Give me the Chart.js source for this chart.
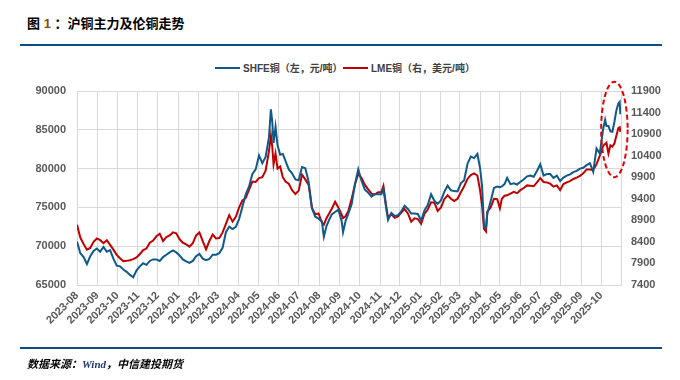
<!DOCTYPE html>
<html>
<head>
<meta charset="utf-8">
<script src="https://cdn.jsdelivr.net/npm/chart.js@4.4.1/dist/chart.umd.min.js"></script>
<style>
  html, body { margin: 0; padding: 0; background: #fff; }
  body { width: 680px; height: 380px; position: relative; overflow: hidden;
         font-family: "Liberation Sans", "Noto Sans CJK SC", sans-serif; }
  #chart { position: absolute; left: 0; top: 0; }
  .title { position: absolute; left: 27px; top: 13px; font-size: 13px; font-weight: bold;
           color: #000; font-family: "Liberation Sans", "Noto Sans CJK SC", sans-serif; }
  .title .num { color: #8a4b08; }
  .rule { position: absolute; left: 20px; width: 642px; height: 2px; background: #0f4c81; }
  .legend { position: absolute; top: 60px; font-size: 10px; font-weight: bold; color: #404040;
            white-space: nowrap; font-family: "Liberation Sans", "Noto Sans CJK SC", sans-serif; }
  .legend i { display: inline-block; width: 25px; height: 2px; vertical-align: middle;
              margin-right: 3px; position: relative; top: -1px; }
  .source { position: absolute; left: 27px; top: 355px; font-size: 11px; font-weight: bold;
            font-style: italic; color: #000; font-family: "Noto Sans CJK SC", sans-serif; }
  .source .w { font-family: "Liberation Serif", serif; color: #1f3a6e; font-weight: bold; }
</style>
</head>
<body>
<div class="title">图 <span class="num">1</span> ：沪铜主力及伦铜走势</div>
<div class="rule" style="top:44px"></div>
<div class="legend" style="left:215px"><i style="background:#0f5a8a"></i>SHFE铜（左，元/吨）</div>
<div class="legend" style="left:343px"><i style="background:#c00000"></i>LME铜（右，美元/吨）</div>
<canvas id="chart" width="680" height="380"></canvas>
<div class="rule" style="top:347px"></div>
<div class="source">数据来源：<span class="w">Wind</span>，中信建投期货</div>

<script>
// month tick labels (x axis)
const monthLabels = ['2023-08','2023-09','2023-10','2023-11','2023-12','2024-01','2024-02','2024-03',
  '2024-04','2024-05','2024-06','2024-07','2024-08','2024-09','2024-10','2024-11','2024-12',
  '2025-01','2025-02','2025-03','2025-04','2025-05','2025-06','2025-07','2025-08','2025-09','2025-10'];
const axisStart = '2023-08-01';
const axisEnd = '2025-10-31';

// sample dates
const dates = [
  '2023-08-01','2023-08-06','2023-08-11','2023-08-16','2023-08-21','2023-08-26','2023-08-31',
  '2023-09-05','2023-09-10','2023-09-15','2023-09-20','2023-09-25','2023-09-30',
  '2023-10-05','2023-10-10','2023-10-15','2023-10-20','2023-10-25','2023-10-30',
  '2023-11-04','2023-11-09','2023-11-14','2023-11-19','2023-11-24','2023-11-29',
  '2023-12-04','2023-12-09','2023-12-14','2023-12-19','2023-12-24','2023-12-29',
  '2024-01-03','2024-01-08','2024-01-13','2024-01-18','2024-01-23','2024-01-28',
  '2024-02-02','2024-02-07','2024-02-12','2024-02-17','2024-02-22','2024-02-27',
  '2024-03-03','2024-03-08','2024-03-13','2024-03-18','2024-03-23','2024-03-28',
  '2024-04-02','2024-04-07','2024-04-12','2024-04-17','2024-04-22','2024-04-27',
  '2024-05-02','2024-05-07','2024-05-12','2024-05-17','2024-05-20','2024-05-22','2024-05-24','2024-05-27','2024-05-30',
  '2024-06-03','2024-06-07','2024-06-11','2024-06-16','2024-06-21','2024-06-26',
  '2024-07-01','2024-07-06','2024-07-11','2024-07-16','2024-07-21','2024-07-26','2024-07-31',
  '2024-08-05','2024-08-08','2024-08-12','2024-08-16','2024-08-20','2024-08-25','2024-08-30',
  '2024-09-04','2024-09-06','2024-09-10','2024-09-14','2024-09-19','2024-09-24','2024-09-29',
  '2024-10-04','2024-10-09','2024-10-14','2024-10-19','2024-10-24','2024-10-29',
  '2024-11-03','2024-11-06','2024-11-10','2024-11-13','2024-11-18','2024-11-23','2024-11-28',
  '2024-12-03','2024-12-08','2024-12-13','2024-12-18','2024-12-23','2024-12-28',
  '2025-01-02','2025-01-07','2025-01-12','2025-01-17','2025-01-22','2025-01-27',
  '2025-02-01','2025-02-06','2025-02-11','2025-02-16','2025-02-21','2025-02-26',
  '2025-03-03','2025-03-08','2025-03-13','2025-03-18','2025-03-23','2025-03-28',
  '2025-04-01','2025-04-04','2025-04-07','2025-04-10','2025-04-12','2025-04-17','2025-04-22','2025-04-27',
  '2025-05-01','2025-05-04','2025-05-08','2025-05-12','2025-05-17','2025-05-22','2025-05-27',
  '2025-06-01','2025-06-06','2025-06-11','2025-06-16','2025-06-21','2025-06-26',
  '2025-07-01','2025-07-06','2025-07-11','2025-07-16','2025-07-21','2025-07-26','2025-07-31',
  '2025-08-05','2025-08-10','2025-08-15','2025-08-20','2025-08-25','2025-08-30',
  '2025-09-04','2025-09-09','2025-09-14','2025-09-19','2025-09-24','2025-09-29',
  '2025-10-04','2025-10-07','2025-10-09','2025-10-12','2025-10-15','2025-10-18',
  '2025-10-21','2025-10-24','2025-10-27','2025-10-29','2025-10-30'
];

// SHFE copper, yuan/t (left axis)
const shfe = [
  70600,69100,68600,67700,68700,69400,69700,
  69300,69900,69300,69500,68400,67500,
  67400,67000,66700,66300,66000,66900,
  67400,67800,67600,68100,68300,68300,
  68100,68600,68900,69200,69450,69200,
  68800,68300,68050,67850,68100,68700,
  69000,68400,68200,68350,68900,68900,
  69100,69800,71800,72500,72200,72500,
  73500,75100,76700,77700,79300,79900,
  81700,80700,81500,84000,87650,86100,83300,85400,83000,
  81800,81900,81000,79900,79400,78600,
  78500,80200,80050,78300,74900,73800,73550,
  73200,71200,72600,73400,74100,74400,74700,
  73200,71800,73300,74200,75400,78000,79900,
  78400,77300,76900,76400,76700,76700,
  76700,77400,75000,73400,74300,73900,74000,
  74500,75200,74800,74200,74200,74150,
  73300,74600,75300,76700,75850,75450,
  75900,77000,77800,77200,77100,77050,
  78100,78500,80600,81550,81350,81900,
  80100,77800,72700,72400,74200,75800,77500,77700,
  77600,77700,78000,78800,78000,78100,77950,
  78300,78600,79000,79100,78950,79700,
  80550,79100,79300,79300,78800,79100,78400,
  78850,79100,79250,79550,79700,80000,
  80100,80440,80700,79580,82600,81950,
  85100,86300,85500,85500,84800,84750,
  86000,87500,88400,88600,87000
];

// LME copper, USD/t (right axis)
const lme = [
  8800,8500,8350,8220,8260,8400,8480,
  8440,8370,8440,8330,8220,8100,
  8020,7950,7960,7975,8000,8040,
  8120,8210,8245,8380,8430,8530,
  8590,8420,8510,8550,8620,8600,
  8460,8380,8340,8290,8370,8550,
  8620,8420,8230,8420,8570,8480,
  8490,8620,8820,9020,8870,8980,
  9200,9360,9420,9610,9800,9790,
  9880,9900,10050,10500,10870,10620,10200,10450,10100,
  10150,9900,9800,9750,9600,9510,
  9590,9960,9850,9720,9190,9040,9060,
  8850,8800,8950,9060,9170,9330,9190,
  9030,8950,9000,9120,9400,9730,9980,
  9880,9720,9620,9520,9500,9550,
  9560,9700,9250,8960,9040,8960,8990,
  9080,9160,9060,8870,8945,8930,
  8820,9050,9150,9320,9310,9120,
  9200,9390,9480,9400,9350,9400,
  9550,9690,9860,9950,9990,9940,
  9600,9250,8700,8640,9100,9200,9400,9390,
  9180,9400,9470,9480,9520,9560,9530,
  9600,9650,9710,9700,9690,9780,
  9880,9790,9780,9750,9680,9710,9600,
  9740,9780,9810,9860,9890,9930,
  9990,10080,10080,10070,10200,10400,
  10630,10670,10700,10450,10640,10610,
  10680,10860,11040,11060,10950
];

// highlighted zone (dashed ellipse), in data units
const highlight = { from: '2025-10-01', to: '2025-11-10', low: 78900, high: 91200 };

const DAY = 86400000;
function dayOf(s) {
  const p = s.split('-').map(Number);
  return Math.round((Date.UTC(p[0], p[1] - 1, p[2]) - Date.UTC(2023, 7, 1)) / DAY);
}

const shfePoints = dates.map((d, i) => ({ x: dayOf(d), y: shfe[i] }));
const lmePoints = dates.map((d, i) => ({ x: dayOf(d), y: lme[i] }));

const tickFont = { family: '"Liberation Sans", "Noto Sans CJK SC", sans-serif', size: 11, weight: 'bold' };
const gridColor = '#d9d9d9';

const ellipsePlugin = {
  id: 'ellipse',
  afterDatasetsDraw(chart) {
    const { ctx, scales } = chart;
    const x1 = scales.x.getPixelForValue(dayOf(highlight.from));
    const x2 = scales.x.getPixelForValue(dayOf(highlight.to));
    const y1 = scales.y.getPixelForValue(highlight.high);
    const y2 = scales.y.getPixelForValue(highlight.low);
    ctx.save();
    ctx.strokeStyle = '#e60000';
    ctx.lineWidth = 2;
    ctx.setLineDash([5, 3]);
    ctx.beginPath();
    ctx.ellipse((x1 + x2) / 2, (y1 + y2) / 2, (x2 - x1) / 2, (y2 - y1) / 2, 0, 0, Math.PI * 2);
    ctx.stroke();
    ctx.restore();
  }
};

new Chart(document.getElementById('chart').getContext('2d'), {
  type: 'line',
  data: {
    datasets: [
      { label: 'SHFE铜（左，元/吨）', data: shfePoints, yAxisID: 'y', borderColor: '#0f5a8a',
        borderWidth: 2, pointRadius: 0, tension: 0, fill: false },
      { label: 'LME铜（右，美元/吨）', data: lmePoints, yAxisID: 'y2', borderColor: '#c00000',
        borderWidth: 2, pointRadius: 0, tension: 0, fill: false }
    ]
  },
  options: {
    responsive: false,
    animation: false,
    layout: { padding: { top: 91, left: 0, right: 0, bottom: 0 } },
    plugins: { legend: { display: false }, tooltip: { enabled: false } },
    scales: {
      x: {
        type: 'linear',
        min: 0,
        max: dayOf(axisEnd),
        afterBuildTicks: s => { s.ticks = monthLabels.map(m => ({ value: dayOf(m + '-01') })); },
        afterFit: s => { s.height = 95; },
        ticks: {
          autoSkip: false, minRotation: 45, maxRotation: 45, padding: 4,
          color: '#595959', font: tickFont,
          callback: (v, i) => monthLabels[i]
        },
        grid: { color: gridColor, drawTicks: false },
        border: { color: gridColor }
      },
      y: {
        position: 'left',
        min: 65000, max: 90000,
        afterFit: s => { s.width = 77; },
        ticks: { stepSize: 5000, padding: 11, color: '#595959', font: tickFont,
                 callback: v => String(v) },
        grid: { color: gridColor, drawTicks: false },
        border: { color: gridColor }
      },
      y2: {
        position: 'right',
        min: 7400, max: 11900,
        afterFit: s => { s.width = 59; },
        ticks: { stepSize: 500, padding: 10, color: '#595959', font: tickFont,
                 callback: v => String(v) },
        grid: { drawOnChartArea: false, drawTicks: false },
        border: { color: gridColor }
      }
    }
  },
  plugins: [ellipsePlugin]
});
</script>
</body>
</html>
